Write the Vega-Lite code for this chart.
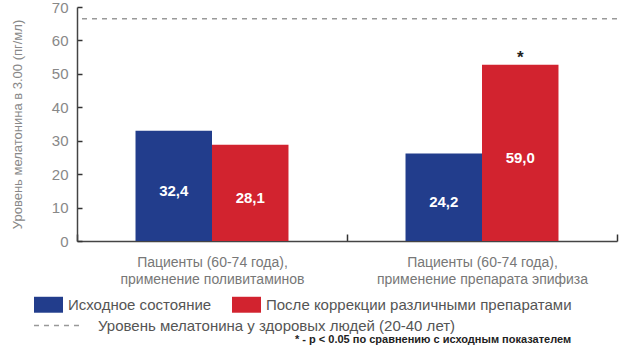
{
  "$schema": "https://vega.github.io/schema/vega-lite/v6.json",
  "width": 540,
  "height": 234,
  "autosize": {"type": "none"},
  "padding": {"left": 77, "top": 7, "right": 3, "bottom": 108},
  "background": "white",
  "config": {
    "view": {"stroke": null},
    "font": "Liberation Sans",
    "axisX": {
      "labelAngle": 0,
      "labelFontSize": 14,
      "labelColor": "#777",
      "labelLineHeight": 17,
      "labelPadding": 21,
      "labelLimit": 400,
      "domainColor": "#444",
      "domainWidth": 1.5,
      "ticks": true,
      "tickBand": "extent",
      "tickSize": -7,
      "tickColor": "#333",
      "tickWidth": 1.5,
      "grid": false
    },
    "axisY": {
      "tickCount": 7,
      "labelOverlap": false,
      "grid": false,
      "labelFontSize": 15,
      "labelColor": "#888",
      "labelPadding": 14,
      "domainColor": "#444",
      "domainWidth": 1.5,
      "tickSize": -5,
      "tickColor": "#333",
      "tickWidth": 1.5,
      "titleFontSize": 13,
      "titleFontWeight": "normal",
      "titleColor": "#888",
      "titlePadding": 27
    }
  },
  "title": {
    "text": "* - р < 0.05 по сравнению с исходным показателем",
    "orient": "bottom",
    "anchor": "start",
    "frame": "group",
    "dx": 218,
    "offset": 0,
    "fontSize": 11,
    "fontWeight": 600,
    "color": "#222",
    "font": "Liberation Sans"
  },
  "datasets": {
    "bars": [
      {"group": "Пациенты (60-74 года),|применение поливитаминов", "series": "Исходное состояние", "value": 33.0, "label": "32,4", "sig": ""},
      {"group": "Пациенты (60-74 года),|применение поливитаминов", "series": "После коррекции различными препаратами", "value": 28.8, "label": "28,1", "sig": ""},
      {"group": "Пациенты (60-74 года),|применение препарата эпифиза", "series": "Исходное состояние", "value": 26.2, "label": "24,2", "sig": ""},
      {"group": "Пациенты (60-74 года),|применение препарата эпифиза", "series": "После коррекции различными препаратами", "value": 52.7, "label": "59,0", "sig": "*"}
    ],
    "ref": [
      {"ref": "Уровень мелатонина у здоровых людей (20-40 лет)", "level": 66.5}
    ]
  },
  "layer": [
    {
      "data": {"name": "bars"},
      "mark": {"type": "bar"},
      "encoding": {
        "x": {
          "field": "group", "type": "nominal",
          "scale": {"paddingInner": 0, "paddingOuter": 0},
          "axis": {
            "title": null,
            "labelExpr": "isString(datum.value) ? split(datum.value, '|') : ''"
          }
        },
        "xOffset": {
          "field": "series", "type": "nominal",
          "sort": ["Исходное состояние", "После коррекции различными препаратами"],
          "scale": {"paddingOuter": 0.765, "paddingInner": 0}
        },
        "y": {
          "field": "value", "type": "quantitative",
          "scale": {"domain": [0, 70], "nice": false},
          "axis": {
            "title": "Уровень мелатонина в 3.00 (пг/мл)",
            "tickCount": 7
          }
        },
        "color": {
          "field": "series", "type": "nominal",
          "scale": {
            "domain": ["Исходное состояние", "После коррекции различными препаратами"],
            "range": ["#223d8c", "#d2232f"]
          },
          "legend": {
            "orient": "none",
            "legendX": -43,
            "legendY": 283,
            "direction": "horizontal",
            "columns": 2,
            "columnPadding": 20,
            "title": null,
            "symbolType": "M-1,-0.55H1V0.55H-1Z",
            "symbolSize": 841,
            "symbolStrokeWidth": 0,
            "symbolOpacity": 1,
            "labelFontSize": 15,
            "labelColor": "#555",
            "labelOffset": 5,
            "labelLimit": 400
          }
        }
      }
    },
    {
      "data": {"name": "bars"},
      "transform": [{"calculate": "datum.value / 2", "as": "mid"}],
      "mark": {"type": "text", "color": "white", "fontSize": 15, "fontWeight": "bold", "dy": 5},
      "encoding": {
        "x": {"field": "group", "type": "nominal"},
        "xOffset": {"field": "series", "type": "nominal", "sort": ["Исходное состояние", "После коррекции различными препаратами"]},
        "y": {"field": "mid", "type": "quantitative"},
        "text": {"field": "label"}
      }
    },
    {
      "data": {"name": "bars"},
      "mark": {"type": "text", "color": "#222", "fontSize": 17, "fontWeight": "bold", "baseline": "bottom", "dy": 2},
      "encoding": {
        "x": {"field": "group", "type": "nominal"},
        "xOffset": {"field": "series", "type": "nominal", "sort": ["Исходное состояние", "После коррекции различными препаратами"]},
        "y": {"field": "value", "type": "quantitative"},
        "text": {"field": "sig"}
      }
    },
    {
      "data": {"name": "ref"},
      "mark": {"type": "rule", "color": "#999", "strokeWidth": 1.5},
      "encoding": {
        "y": {"field": "level", "type": "quantitative"},
        "strokeDash": {
          "field": "ref", "type": "nominal",
          "scale": {"range": [[5, 5]]},
          "legend": {
            "orient": "none",
            "legendX": -44,
            "legendY": 293,
            "title": null,
            "symbolType": "stroke",
            "symbolSize": 2401,
            "symbolStrokeColor": "#999",
            "symbolStrokeWidth": 1.5,
            "labelFontSize": 15,
            "labelColor": "#555",
            "labelOffset": 14,
            "labelLimit": 500
          }
        }
      }
    }
  ]
}
